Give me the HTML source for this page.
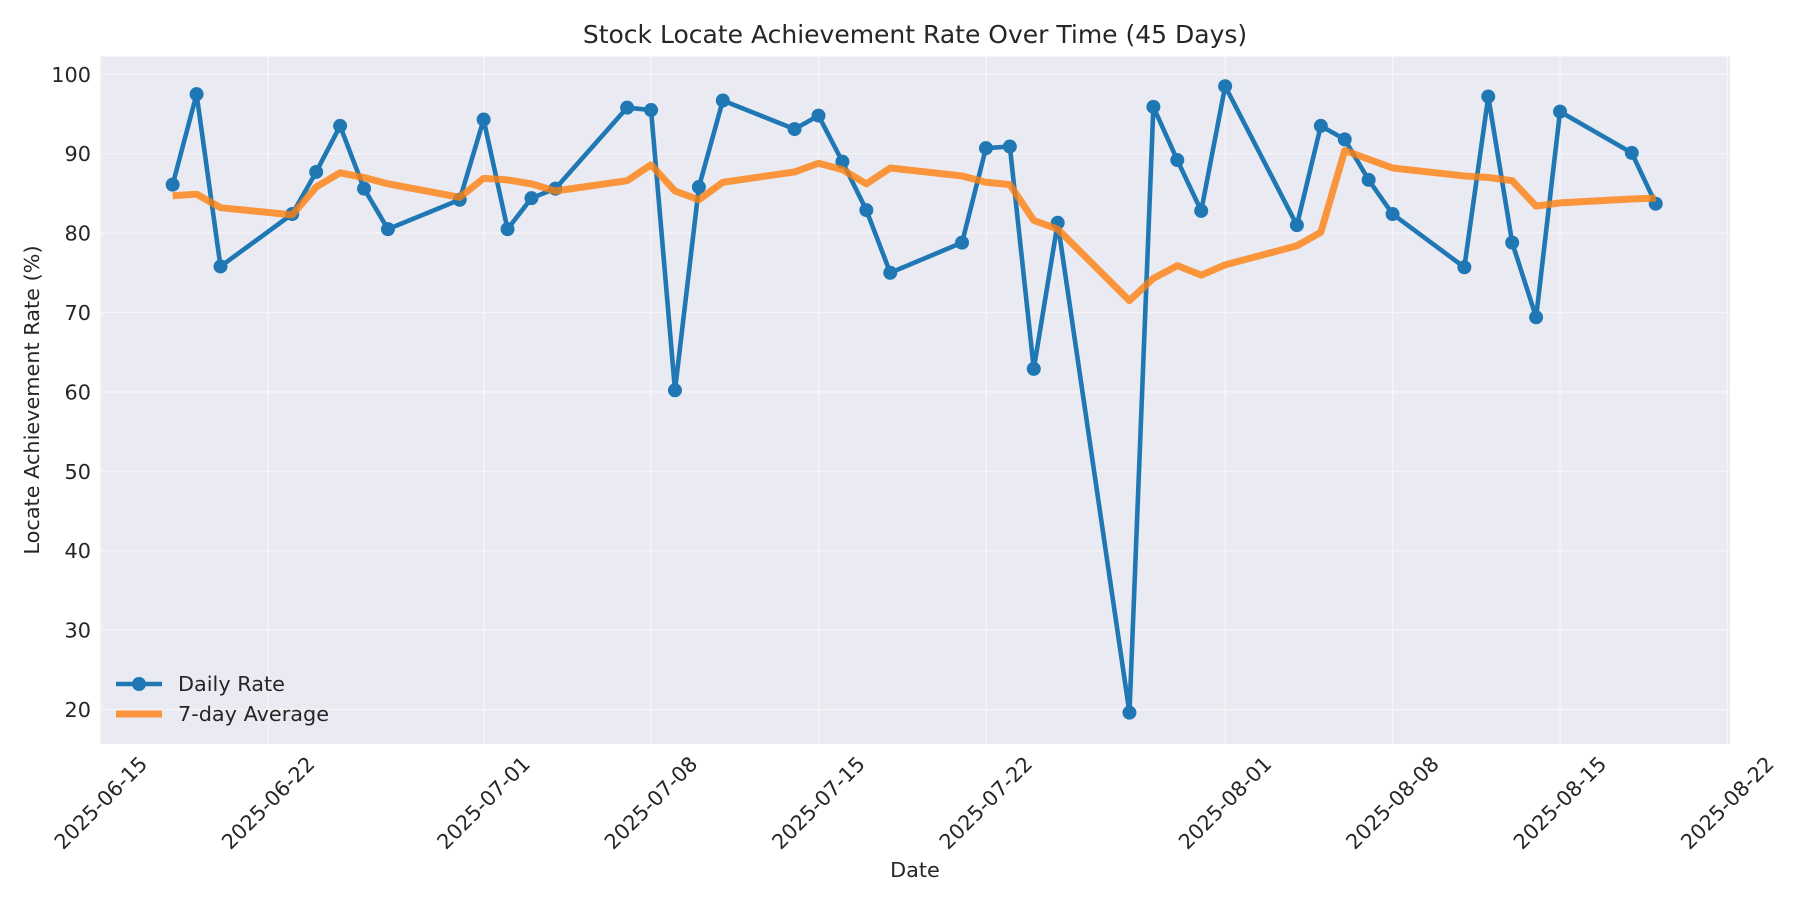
<!DOCTYPE html>
<html><head><meta charset="utf-8"><style>
body{margin:0;background:#fff}
svg{display:block;font-family:"DejaVu Sans","Liberation Sans",sans-serif}
</style></head><body>
<svg id="chart" width="1800" height="900" viewBox="0 0 1800 900">
<rect x="0" y="0" width="1800" height="900" fill="#fff"/>
<text x="915" y="43" font-size="25" text-anchor="middle" fill="#262626">Stock Locate Achievement Rate Over Time (45 Days)</text>
<rect x="100" y="56.5" width="1630" height="687.5" fill="#EAEAF2"/>
<g id="grid"></g><g id="ticks"></g><g id="series"></g>
<text x="915" y="877" font-size="20.8" text-anchor="middle" fill="#262626">Date</text>
<text transform="translate(39,400) rotate(-90)" font-size="20.8" text-anchor="middle" fill="#262626">Locate Achievement Rate (%)</text>
<g>
<g>
<line x1="116" y1="684" x2="162" y2="684" stroke="#1f77b4" stroke-width="4.6"/>
<circle cx="139" cy="684" r="7" fill="#1f77b4"/>
<text x="178" y="691" font-size="20.8" fill="#262626">Daily Rate</text></g>
<g>
<line x1="116" y1="714" x2="162" y2="714" stroke="#ff7f0e" stroke-opacity="0.8" stroke-width="7"/>
<text x="178" y="721" font-size="20.8" fill="#262626">7-day Average</text></g>
</g>
</svg>
<script>
// days since 2025-06-15
const dayOffsets=[3,4,5,8,9,10,11,12,15,16,17,18,19,22,23,24,25,26,29,30,31,32,33,36,37,38,39,40,43,44,45,46,47,50,51,52,53,54,57,58,59,60,61,64,65];
const dailyRate=[86.1,97.5,75.8,82.4,87.7,93.5,85.6,80.5,84.2,94.3,80.5,84.4,85.6,95.8,95.5,60.2,85.8,96.7,93.1,94.8,89.0,82.9,75.0,78.8,90.7,90.9,62.9,81.3,19.6,95.9,89.2,82.8,98.5,81.0,93.5,91.8,86.7,82.4,75.7,97.2,78.8,69.4,95.3,90.1,83.7];
const avgRate=[84.7,84.9,83.2,82.3,85.8,87.6,87.0,86.2,84.5,86.9,86.7,86.2,85.3,86.6,88.6,85.3,84.2,86.4,87.7,88.8,88.0,86.2,88.2,87.2,86.4,86.1,81.6,80.5,71.5,74.3,75.9,74.7,76.0,78.4,80.1,90.4,89.3,88.2,87.2,87.0,86.6,83.4,83.8,84.3,84.4];
const xTickDays=[0,7,16,23,30,37,47,54,61,68];
const xTickLabels=["2025-06-15","2025-06-22","2025-07-01","2025-07-08","2025-07-15","2025-07-22","2025-08-01","2025-08-08","2025-08-15","2025-08-22"];
const yTicks=[20,30,40,50,60,70,80,90,100];

const NS="http://www.w3.org/2000/svg";
const X=d=>100.9+d*23.92;
const Y=v=>74.3+(100-v)*7.94;
function mk(tag,attrs,parent){const e=document.createElementNS(NS,tag);for(const k in attrs)e.setAttribute(k,attrs[k]);parent.appendChild(e);return e;}
const grid=document.getElementById('grid'),ticks=document.getElementById('ticks'),series=document.getElementById('series');
yTicks.forEach(v=>{
 const l=mk('line',{x1:100,x2:1730,y1:Y(v),y2:Y(v),stroke:'#fff','stroke-width':1.2,'stroke-opacity':0.55},grid);
 
 
 const t=mk('text',{x:91,y:Y(v)+7.5,'font-size':20.8,'text-anchor':'end',fill:'#262626'},ticks);
 t.textContent=v;
 
 
});
xTickDays.forEach((d,i)=>{
 const l=mk('line',{x1:X(d),x2:X(d),y1:56.5,y2:744,stroke:'#fff','stroke-width':1.2,'stroke-opacity':0.55},grid);
 
 
 const t=mk('text',{transform:`translate(${X(d)},${803}) rotate(-45)`,y:7,'font-size':20.8,'text-anchor':'middle',fill:'#262626'},ticks);
 t.textContent=xTickLabels[i];
 
 
});
const pd=dayOffsets.map((d,i)=>X(d)+','+Y(dailyRate[i])).join(' ');
const pl=mk('polyline',{points:pd,fill:'none',stroke:'#1f77b4','stroke-width':4.6,'stroke-linejoin':'round'},series);


dayOffsets.forEach((d,i)=>{
 const c=mk('circle',{cx:X(d),cy:Y(dailyRate[i]),r:7,fill:'#1f77b4'},series);
 
 
});
const pa=dayOffsets.map((d,i)=>X(d)+','+Y(avgRate[i])).join(' ');
const al=mk('polyline',{points:pa,fill:'none',stroke:'#ff7f0e','stroke-opacity':0.8,'stroke-width':7,'stroke-linejoin':'round'},series);


</script>
</body></html>
